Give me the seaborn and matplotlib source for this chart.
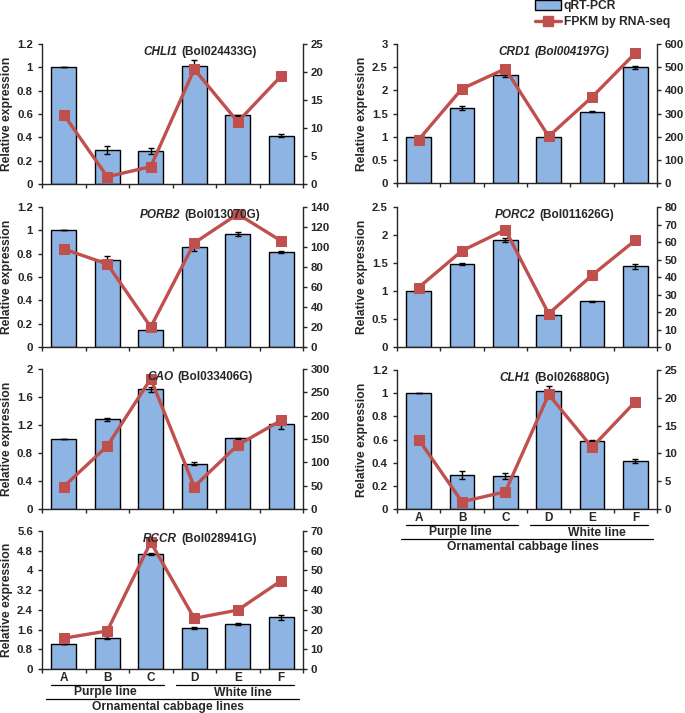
import matplotlib
matplotlib.use("Agg")
import numpy as np
import pandas as pd
import seaborn as sns
import matplotlib.pyplot as plt
from matplotlib.offsetbox import TextArea, HPacker, AnchoredOffsetbox
from matplotlib.lines import Line2D
from matplotlib.patches import Patch

sns.set_style("ticks")
plt.rcParams["font.family"] = ["Liberation Sans", "DejaVu Sans"]
plt.rcParams["font.weight"] = "bold"

lines = ["A", "B", "C", "D", "E", "F"]

# --- data ---
chli1_qpcr = [1.0, 0.29, 0.285, 1.015, 0.59, 0.415]
chli1_err = [0.0, 0.035, 0.025, 0.045, 0.005, 0.015]
chli1_fpkm = [12.4, 1.3, 3.1, 20.5, 11.1, 19.3]

crd1_qpcr = [1.0, 1.62, 2.33, 0.99, 1.54, 2.5]
crd1_err = [0.0, 0.04, 0.05, 0.06, 0.015, 0.03]
crd1_fpkm = [187, 407, 493, 201, 371, 561]

porb2_qpcr = [1.0, 0.745, 0.15, 0.855, 0.97, 0.815]
porb2_err = [0.0, 0.035, 0.01, 0.03, 0.02, 0.005]
porb2_fpkm = [98, 83, 20, 104, 133, 106]

porc2_qpcr = [1.0, 1.48, 1.91, 0.57, 0.82, 1.44]
porc2_err = [0.0, 0.02, 0.04, 0.06, 0.01, 0.05]
porc2_fpkm = [34, 55, 67, 19, 41, 61]

cao_qpcr = [1.0, 1.28, 1.71, 0.65, 1.01, 1.21]
cao_err = [0.0, 0.02, 0.04, 0.02, 0.005, 0.06]
cao_fpkm = [48, 135, 279, 48, 137, 190]

clh1_qpcr = [1.0, 0.29, 0.285, 1.015, 0.59, 0.415]
clh1_err = [0.0, 0.035, 0.025, 0.045, 0.005, 0.015]
clh1_fpkm = [12.5, 1.3, 3.1, 20.6, 11.1, 19.3]

rccr_qpcr = [1.0, 1.27, 4.65, 1.66, 1.83, 2.1]
rccr_err = [0.0, 0.06, 0.04, 0.03, 0.05, 0.1]
rccr_fpkm = [15.6, 19.3, 64.3, 25.7, 29.9, 44.8]

BAR_C = "#8DB4E2"
LINE_C = "#C0504D"

W, H = 685, 713
fig = plt.figure(figsize=(W / 100, H / 100), dpi=100)


def px_axes(left, top, right, bottom):
    return fig.add_axes([left / W, 1 - bottom / H, (right - left) / W, (bottom - top) / H])


panels = [
    dict(gene="CHLI1", bol="(Bol024433G)", allit=False, q=chli1_qpcr, e=chli1_err, f=chli1_fpkm,
         yt=[0, 0.2, 0.4, 0.6, 0.8, 1, 1.2], y2t=[0, 5, 10, 15, 20, 25], box=(42, 44, 303, 184), bottom=False),
    dict(gene="CRD1", bol="(Bol004197G)", allit=True, q=crd1_qpcr, e=crd1_err, f=crd1_fpkm,
         yt=[0, 0.5, 1, 1.5, 2, 2.5, 3], y2t=[0, 100, 200, 300, 400, 500, 600], box=(397, 44, 657, 183), bottom=False),
    dict(gene="PORB2", bol="(Bol013070G)", allit=False, q=porb2_qpcr, e=porb2_err, f=porb2_fpkm,
         yt=[0, 0.2, 0.4, 0.6, 0.8, 1, 1.2], y2t=[0, 20, 40, 60, 80, 100, 120, 140], box=(42, 207, 303, 347), bottom=False),
    dict(gene="PORC2", bol="(Bol011626G)", allit=False, q=porc2_qpcr, e=porc2_err, f=porc2_fpkm,
         yt=[0, 0.5, 1, 1.5, 2, 2.5], y2t=[0, 10, 20, 30, 40, 50, 60, 70, 80], box=(397, 207, 657, 347), bottom=False),
    dict(gene="CAO", bol="(Bol033406G)", allit=False, q=cao_qpcr, e=cao_err, f=cao_fpkm,
         yt=[0, 0.4, 0.8, 1.2, 1.6, 2], y2t=[0, 50, 100, 150, 200, 250, 300], box=(42, 369, 303, 509), bottom=False),
    dict(gene="CLH1", bol="(Bol026880G)", allit=False, q=clh1_qpcr, e=clh1_err, f=clh1_fpkm,
         yt=[0, 0.2, 0.4, 0.6, 0.8, 1, 1.2], y2t=[0, 5, 10, 15, 20, 25], box=(397, 370, 657, 509), bottom=True),
    dict(gene="RCCR", bol="(Bol028941G)", allit=False, q=rccr_qpcr, e=rccr_err, f=rccr_fpkm,
         yt=[0, 0.8, 1.6, 2.4, 3.2, 4, 4.8, 5.6], y2t=[0, 10, 20, 30, 40, 50, 60, 70], box=(42, 531, 303, 669), bottom=True),
]

TICK_FS = 8.2

for p in panels:
    ax = px_axes(*p["box"])
    df = pd.DataFrame({"line": lines, "qpcr": p["q"], "fpkm": p["f"]})
    sns.barplot(data=df, x="line", y="qpcr", ax=ax, color=BAR_C, width=0.57,
                edgecolor="black", linewidth=1.0, saturation=1, errorbar=None, zorder=2)
    ax.errorbar(np.arange(len(lines)), p["q"], yerr=p["e"], fmt="none", ecolor="black",
                elinewidth=1.0, capsize=2.4, capthick=1.0, zorder=3)
    ax.set_xlim(-0.5, len(lines) - 0.5)
    ax.set_ylim(p["yt"][0], p["yt"][-1])
    ax.set_yticks(p["yt"])
    ax.set_yticklabels([f"{v:g}" for v in p["yt"]], fontsize=TICK_FS, fontweight="bold")
    ax.set_ylabel("Relative expression", fontsize=8.7, fontweight="bold", labelpad=3)
    ax.set_xlabel("")
    ax.spines["top"].set_visible(False)
    ax.spines["right"].set_visible(False)
    for s in ("left", "bottom"):
        ax.spines[s].set_linewidth(1.0)
    ax.set_xticks(np.arange(-0.5, len(lines), 1.0), minor=True)
    ax.tick_params(axis="x", which="minor", length=3.0, width=1.0, direction="out")
    ax.tick_params(axis="x", which="major", length=0, pad=2)
    ax.tick_params(axis="y", length=3.0, width=1.0, direction="out", pad=3.5)
    if p["bottom"]:
        ax.set_xticks(np.arange(len(lines)))
        ax.set_xticklabels(lines, fontsize=8.5, fontweight="bold")
    else:
        ax.set_xticks([])

    ax2 = ax.twinx()
    sns.lineplot(x=np.arange(len(lines)), y=p["f"], ax=ax2, color=LINE_C, linewidth=2.4,
                 marker="s", markersize=7, markeredgecolor=LINE_C, zorder=4)
    ax2.set_ylim(p["y2t"][0], p["y2t"][-1])
    ax2.set_yticks(p["y2t"])
    ax2.set_yticklabels([f"{v:g}" for v in p["y2t"]], fontsize=TICK_FS, fontweight="bold")
    ax2.spines["top"].set_visible(False)
    ax2.spines["left"].set_visible(False)
    ax2.spines["bottom"].set_visible(False)
    ax2.spines["right"].set_linewidth(1.0)
    ax2.tick_params(axis="y", length=3.0, width=1.0, direction="out", pad=2.5)
    ax2.set_xlim(-0.5, len(lines) - 0.5)

    # title with italic gene name
    g = TextArea(p["gene"], textprops=dict(fontsize=8.5, fontweight="bold", fontstyle="italic"))
    b = TextArea(p["bol"], textprops=dict(fontsize=8.5, fontweight="bold",
                                          fontstyle="italic" if p["allit"] else "normal"))
    pack = HPacker(children=[g, b], align="baseline", pad=0, sep=3)
    ab = AnchoredOffsetbox(loc="upper center", child=pack, pad=0, borderpad=0, frameon=False,
                           bbox_to_anchor=(0.605, 0.985), bbox_transform=ax.transAxes)
    ax2.add_artist(ab)

    if p["bottom"]:
        l, t, r, btm = p["box"]
        hpx = btm - t
        tr = ax.get_xaxis_transform()

        def fy(px):
            return -px / hpx
        for x0, x1 in [(-0.29, 2.30), (2.58, 5.29)]:
            ax.add_line(Line2D([x0, x1], [fy(15.5)] * 2, color="black", lw=0.9, transform=tr, clip_on=False))
        ax.add_line(Line2D([-0.41, 5.41], [fy(30)] * 2, color="black", lw=0.9, transform=tr, clip_on=False))
        ax.text(0.95, fy(23.5), "Purple line", transform=tr, ha="center", va="center", fontsize=8.7, fontweight="bold")
        ax.text(4.12, fy(23.5), "White line", transform=tr, ha="center", va="center", fontsize=8.7, fontweight="bold")
        ax.text(2.4, fy(38), "Ornamental cabbage lines", transform=tr, ha="center", va="center",
                fontsize=8.7, fontweight="bold")

handles = [Patch(facecolor=BAR_C, edgecolor="black", linewidth=1.0, label="qRT-PCR"),
           Line2D([0], [0], color=LINE_C, lw=2.4, marker="s", markersize=7, label="FPKM by RNA-seq")]
fig.legend(handles=handles, loc="upper left", bbox_to_anchor=(527 / W, 1.012), frameon=False,
           prop=dict(size=8.7, weight="bold"), handlelength=2.1, handleheight=0.9,
           handletextpad=0.25, labelspacing=0.35, borderpad=0.2)

fig.savefig("out.png", dpi=100)
